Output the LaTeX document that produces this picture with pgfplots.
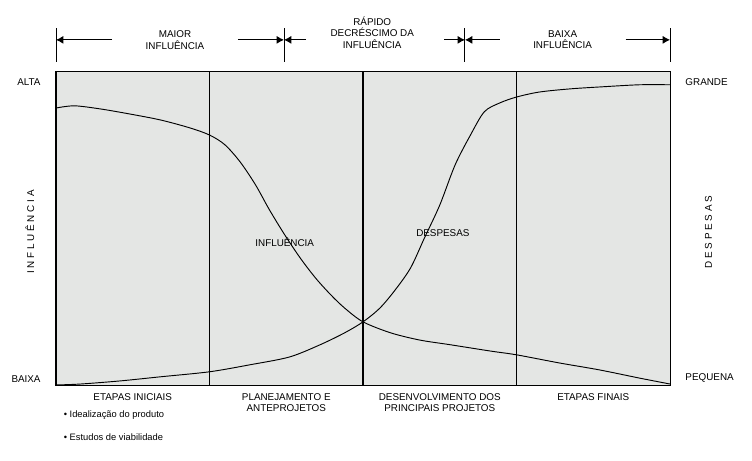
\documentclass[border=0pt]{standalone}
\usepackage{pgfplots}
\pgfplotsset{compat=1.18}
\usepackage{fontspec}
\setmainfont{Liberation Sans}
\usetikzlibrary{arrows.meta}
\definecolor{bgfill}{RGB}{228,230,228}

\begin{document}
\begin{tikzpicture}[font=\fontsize{7.4}{8.6}\selectfont,
  arr/.style={-{Latex[length=5.5pt,width=6pt]}, line width=0.7pt}]
\begin{axis}[
    width=460.5pt, height=235.5pt, scale only axis,
    xmin=0, xmax=4, ymin=0, ymax=100,
    xtick=\empty, ytick=\empty,
    axis background/.style={fill=bgfill},
    axis line style={line width=0.8pt},
    clip=false,
]
% bounding box of the reference image
\path (axis cs:-0.365,-23.6) rectangle (axis cs:4.534,122.9);

% influence
\addplot[black, line width=0.7pt, smooth] coordinates {
 (0,88.5) (0.12,89.2) (0.29,88.2) (0.48,86.6) (0.68,84.7) (0.87,82.2)
 (1.0,79.9) (1.10,76.8) (1.20,71.3) (1.30,64.0) (1.39,56.1) (1.49,48.1)
 (1.59,40.8) (1.69,34.4) (1.79,29.0) (1.88,24.8) (2.0,20.4) (2.18,16.9)
 (2.37,14.6) (2.57,13.1) (2.83,11.1) (3.0,9.9) (3.28,7.3) (3.54,5.1)
 (3.80,2.5) (4.0,0.6)
};
% despesas
\addplot[black, line width=0.7pt, smooth] coordinates {
 (0,0.3) (0.16,0.6) (0.42,1.6) (0.68,2.9) (1.0,4.5) (1.26,6.7) (1.52,9.2)
 (1.72,13.1) (1.88,16.9) (2.0,20.4) (2.11,24.8) (2.21,30.6) (2.31,37.6)
 (2.40,47.1) (2.50,57.6) (2.60,70.4) (2.70,79.9) (2.79,87.3) (2.89,90.1)
 (3.0,92.0) (3.15,93.6) (3.35,94.6) (3.54,95.2) (3.80,95.9) (4.0,95.9)
};

% stage dividers
\pgfplotsinvokeforeach{1,2,3}{
  \draw[line width=0.8pt] (axis cs:#1,0) -- (axis cs:#1,100);
}

% top arrows
\pgfplotsinvokeforeach{0,1.485,2.664,4}{
  \draw[line width=0.7pt] (axis cs:#1,103.2) -- (axis cs:#1,114.0);
}
\draw[arr] (axis cs:0.365,110.2) -- (axis cs:0,110.2);
\draw[arr] (axis cs:1.185,110.2) -- (axis cs:1.485,110.2);
\draw[arr] (axis cs:1.63,110.2) -- (axis cs:1.485,110.2);
\draw[arr] (axis cs:2.53,110.2) -- (axis cs:2.664,110.2);
\draw[arr] (axis cs:2.89,110.2) -- (axis cs:2.664,110.2);
\draw[arr] (axis cs:3.71,110.2) -- (axis cs:4,110.2);
\node[align=center] at (axis cs:0.775,110.2) {MAIOR\\INFLUÊNCIA};
\node[align=center] at (axis cs:2.06,112.5) {RÁPIDO\\DECRÉSCIMO DA\\INFLUÊNCIA};
\node[align=center] at (axis cs:3.30,110.2) {BAIXA\\INFLUÊNCIA};

% side labels
\node[anchor=east] at (axis cs:-0.07,96.8) {ALTA};
\node[anchor=east] at (axis cs:-0.07,2.2) {BAIXA};
\node[anchor=west] at (axis cs:4.07,96.8) {GRANDE};
\node[anchor=west] at (axis cs:4.07,2.6) {PEQUENA};
\node[rotate=90] at (axis cs:-0.17,49) {I N F L U Ê N C I A};
\node[rotate=90] at (axis cs:4.25,49) {D E S P E S A S};

% curve labels
\node at (axis cs:1.49,45.8) {INFLUÊNCIA};
\node at (axis cs:2.52,48.7) {DESPESAS};

% bottom labels
\node[anchor=north] at (axis cs:0.5,-0.9) {ETAPAS INICIAIS};
\node[anchor=north,align=center] at (axis cs:1.5,-0.9) {PLANEJAMENTO E\\ANTEPROJETOS};
\node[anchor=north,align=center] at (axis cs:2.5,-0.9) {DESENVOLVIMENTO DOS\\PRINCIPAIS PROJETOS};
\node[anchor=north] at (axis cs:3.5,-0.9) {ETAPAS FINAIS};
\node[anchor=west,font=\fontsize{7}{8}\selectfont] at (axis cs:0.02,-9.2) {• Idealização do produto};
\node[anchor=west,font=\fontsize{7}{8}\selectfont] at (axis cs:0.02,-16.2) {• Estudos de viabilidade};
\end{axis}
\end{tikzpicture}
\end{document}
